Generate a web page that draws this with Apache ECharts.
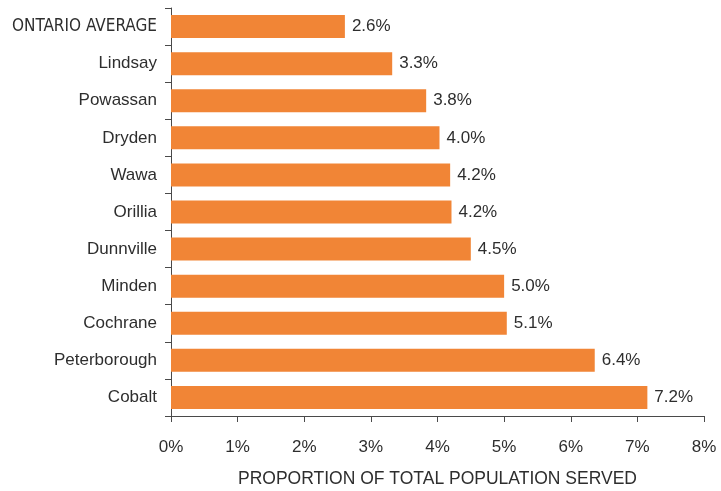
<!DOCTYPE html>
<html>
<head>
<meta charset="utf-8">
<script src="https://cdn.jsdelivr.net/npm/echarts@6/dist/echarts.min.js"></script>
<style>
html,body{margin:0;padding:0;background:#fff;}
#c{width:721px;height:491px;}
</style>
</head>
<body>
<div id="c"></div>
<script>
var categories = ['ONTARIO AVERAGE','Lindsay','Powassan','Dryden','Wawa','Orillia','Dunnville','Minden','Cochrane','Peterborough','Cobalt'];
var values = [2.61, 3.32, 3.83, 4.03, 4.19, 4.21, 4.50, 5.00, 5.04, 6.36, 7.15];
var valueLabels = ['2.6%','3.3%','3.8%','4.0%','4.2%','4.2%','4.5%','5.0%','5.1%','6.4%','7.2%'];
var xTicks = [0,1,2,3,4,5,6,7,8];
var axisTitle = 'PROPORTION OF TOTAL POPULATION SERVED';

var FONT = '"Liberation Sans", Arial, sans-serif';
var NARROW = '"DejaVu Sans Condensed", "Liberation Sans Narrow", sans-serif';
var TXT = '#2e2e2e';
var AX = '#4a4a4a';

var chart = echarts.init(document.getElementById('c'), null, {renderer:'canvas'});
chart.setOption({
  animation: false,
  backgroundColor: '#ffffff',
  grid: {left: 171, right: 17, top: 8, bottom: 75, containLabel: false, outerBoundsMode: 'none'},
  xAxis: {
    type: 'value',
    min: xTicks[0],
    max: xTicks[xTicks.length-1],
    interval: 1,
    name: axisTitle,
    nameLocation: 'middle',
    nameGap: 54,
    nameTextStyle: {fontFamily: FONT, fontSize: 17.5, color: TXT},
    axisLine: {show: true, lineStyle: {color: AX, width: 1}},
    axisTick: {show: true, length: 6, lineStyle: {color: AX}},
    splitLine: {show: false},
    axisLabel: {
      formatter: function(v){ return v + '%'; },
      fontFamily: FONT, fontSize: 17, color: TXT, margin: 23
    }
  },
  yAxis: {
    type: 'category',
    data: categories,
    inverse: true,
    axisLine: {show: true, lineStyle: {color: AX, width: 1}},
    axisTick: {show: true, length: 6, alignWithLabel: false, lineStyle: {color: AX}},
    splitLine: {show: false},
    axisLabel: {
      margin: 14,
      fontFamily: FONT, fontSize: 17, color: TXT,
      formatter: function(v){ return v === categories[0] ? '{n|' + v + '}' : v; },
      rich: {n: {fontFamily: NARROW, fontSize: 17, color: TXT}}
    }
  },
  series: [{
    type: 'bar',
    data: values,
    barWidth: 23,
    itemStyle: {color: '#F18536'},
    label: {
      show: true,
      position: 'right',
      distance: 7,
      fontFamily: FONT, fontSize: 17, color: TXT,
      formatter: function(p){ return valueLabels[p.dataIndex]; }
    }
  }]
});
</script>
</body>
</html>
